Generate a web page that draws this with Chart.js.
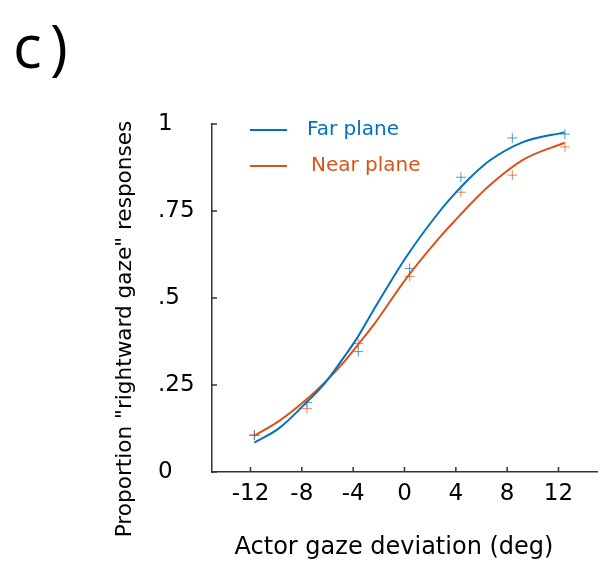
<!DOCTYPE html>
<html><head><meta charset="utf-8">
<script src="https://cdn.jsdelivr.net/npm/chart.js@4/dist/chart.umd.min.js"></script>
<style>html,body{margin:0;padding:0;background:#fff}#c{display:block}</style></head>
<body><canvas id="c" width="609" height="567"></canvas>
<script>
const xTicks = [-12, -8, -4, 0, 4, 8, 12];
const yTicks = [0, 0.25, 0.5, 0.75, 1];
const yTickLabels = ['0', '.25', '.5', '.75', '1'];
const seriesNames = ['Far plane', 'Near plane'];
const xTitle = 'Actor gaze deviation (deg)';
const yTitle = 'Proportion "rightward gaze" responses';
const dataX = [-11.7, -7.6, -3.6, 0.4, 4.4, 8.4, 12.5];
const farData = [0.105, 0.200, 0.346, 0.585, 0.847, 0.960, 0.971];
const nearData = [0.107, 0.182, 0.369, 0.562, 0.804, 0.853, 0.934];
const curveX = [-11.7, -9.76, -7.69, -6.17, -4.62, -3.71, -2.42, 0.17, 2.76, 3.92, 5.09, 6.64, 9.23, 12.47];
const farCurve = [0.0845, 0.126, 0.198, 0.257, 0.335, 0.384, 0.465, 0.620, 0.750, 0.800, 0.845, 0.895, 0.948, 0.976];
const nearCurve = [0.104, 0.147, 0.207, 0.259, 0.320, 0.362, 0.422, 0.558, 0.675, 0.722, 0.768, 0.824, 0.897, 0.946];

const BLUE = '#0072BD', ORANGE = '#D95319';
const pts = (xs, ys) => xs.map((x, i) => ({x, y: ys[i]}));
const FONT = '"DejaVu Sans", Verdana, sans-serif';

const extras = {
  id: 'extras',
  afterDraw(chart) {
    const ctx = chart.ctx, ca = chart.chartArea;
    const xs = chart.scales.x, ys = chart.scales.y;
    ctx.save();
    ctx.strokeStyle = '#333'; ctx.lineWidth = 1.5;
    ctx.beginPath();
    xTicks.forEach(v => { const p = xs.getPixelForValue(v); ctx.moveTo(p, ca.bottom); ctx.lineTo(p, ca.bottom - 5); });
    yTicks.forEach(v => { const p = ys.getPixelForValue(v); ctx.moveTo(ca.left, p); ctx.lineTo(ca.left + 5, p); });
    ctx.stroke();
    // legend
    const items = [[seriesNames[0], BLUE, 130, 307], [seriesNames[1], ORANGE, 166, 311]];
    ctx.font = '20px ' + FONT; ctx.textBaseline = 'middle'; ctx.textAlign = 'left';
    items.forEach(([t, c, y, tx]) => {
      ctx.strokeStyle = c; ctx.lineWidth = 2;
      ctx.beginPath(); ctx.moveTo(250, y); ctx.lineTo(287, y); ctx.stroke();
      ctx.fillStyle = c; ctx.fillText(t, tx, y);
    });
    // axis titles
    ctx.fillStyle = '#000'; ctx.textAlign = 'center'; ctx.textBaseline = 'middle';
    ctx.font = '24px ' + FONT;
    ctx.fillText(xTitle, 394, 548);
    ctx.save();
    ctx.translate(125, 329); ctx.rotate(-Math.PI / 2);
    ctx.font = '21.6px ' + FONT;
    ctx.fillText(yTitle, 0, 0);
    ctx.restore();
    // panel label
    ctx.textAlign = 'left'; ctx.textBaseline = 'alphabetic';
    ctx.font = '60px "Open Sans", sans-serif';
    ctx.fillText('c', 13, 68);
    ctx.fillText(')', 50, 68);
    ctx.restore();
  }
};

new Chart(document.getElementById('c'), {
  type: 'scatter',
  data: {
    datasets: [
      {label: seriesNames[0], type: 'line', data: pts(curveX, farCurve), borderColor: BLUE, borderWidth: 2, pointRadius: 0, cubicInterpolationMode: 'monotone', fill: false},
      {label: seriesNames[1], type: 'line', data: pts(curveX, nearCurve), borderColor: ORANGE, borderWidth: 2, pointRadius: 0, cubicInterpolationMode: 'monotone', fill: false},
      {label: seriesNames[0] + ' data', data: pts(dataX, farData), pointStyle: 'cross', pointRadius: 5, borderColor: 'rgba(0,114,189,0.7)', borderWidth: 1, backgroundColor: 'transparent'},
      {label: seriesNames[1] + ' data', data: pts(dataX, nearData), pointStyle: 'cross', pointRadius: 5, borderColor: 'rgba(217,83,25,0.7)', borderWidth: 1, backgroundColor: 'transparent'}
    ]
  },
  options: {
    responsive: false, animation: false, devicePixelRatio: 1,
    layout: {padding: {left: 158, top: 124, right: 12, bottom: 0}},
    plugins: {legend: {display: false}, tooltip: {enabled: false}},
    scales: {
      x: {
        type: 'linear', min: -15, max: 15,
        afterBuildTicks: s => { s.ticks = xTicks.map(v => ({value: v})); },
        afterFit: s => { s.height = 95; },
        grid: {display: false, drawTicks: false},
        border: {display: true, color: '#333', width: 1.5},
        ticks: {font: {family: FONT, size: 23}, color: '#000', padding: 8, callback: v => String(v)}
      },
      y: {
        type: 'linear', min: 0, max: 1,
        afterBuildTicks: s => { s.ticks = yTicks.map(v => ({value: v})); },
        afterFit: s => { s.width = 54; },
        grid: {display: false, drawTicks: false},
        border: {display: true, color: '#333', width: 1.5},
        ticks: {font: {family: FONT, size: 23}, color: '#000', padding: 19, crossAlign: 'far',
          callback: v => yTickLabels[yTicks.indexOf(v)]}
      }
    }
  },
  plugins: [extras]
});
</script>
</body></html>
